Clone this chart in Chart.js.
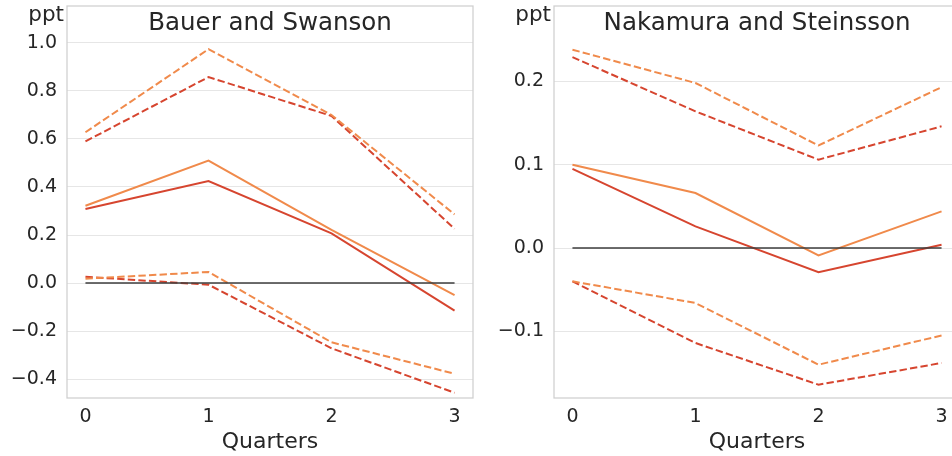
<!DOCTYPE html>
<html>
<head>
<meta charset="utf-8">
<script src="https://cdn.jsdelivr.net/npm/chart.js@4"></script>
<style>
  html, body { margin: 0; padding: 0; background: #ffffff; overflow: hidden; }
  #wrap { position: relative; width: 952px; height: 456px; overflow: hidden; }
  #c1 { position: absolute; left: 0; top: 0; }
  #c2 { position: absolute; left: 478px; top: 0; }
</style>
</head>
<body>
<div id="wrap">
  <canvas id="c1" width="478" height="456"></canvas>
  <canvas id="c2" width="487" height="456"></canvas>
</div>
<script>
// Horizon (quarters) shared by both panels
const quarters = [0, 1, 2, 3];

// Bauer and Swanson: point estimates and bands
const bsOrangeMid   = [0.322, 0.510, 0.221, -0.050];
const bsOrangeUpper = [0.628, 0.974, 0.700, 0.286];
const bsOrangeLower = [0.018, 0.046, -0.247, -0.378];
const bsRedMid      = [0.308, 0.425, 0.207, -0.115];
const bsRedUpper    = [0.590, 0.858, 0.696, 0.226];
const bsRedLower    = [0.026, -0.007, -0.272, -0.457];
const bsYTicks      = [-0.4, -0.2, 0.0, 0.2, 0.4, 0.6, 0.8, 1.0];

// Nakamura and Steinsson: point estimates and bands
const nsOrangeMid   = [0.100, 0.066, -0.009, 0.044];
const nsOrangeUpper = [0.238, 0.198, 0.123, 0.193];
const nsOrangeLower = [-0.040, -0.066, -0.140, -0.105];
const nsRedMid      = [0.095, 0.026, -0.029, 0.004];
const nsRedUpper    = [0.229, 0.164, 0.106, 0.146];
const nsRedLower    = [-0.040, -0.114, -0.164, -0.138];
const nsYTicks      = [-0.1, 0.0, 0.1, 0.2];

const ORANGE = '#f08a4b';
const RED = '#d6452f';
const TEXT = '#262626';
const FONT = "'DejaVu Sans', sans-serif";

const toPoints = vals => vals.map((v, i) => ({ x: quarters[i], y: v }));

function series(vals, color, dashed) {
  return {
    data: toPoints(vals),
    borderColor: color,
    borderWidth: 2,
    borderDash: dashed ? [7.4, 3.2] : [],
    pointRadius: 0,
    tension: 0,
    fill: false
  };
}

// Titles, unit label, axis label and the light frame round the plot area
const panelText = {
  id: 'panelText',
  afterDraw(chart, args, opts) {
    const { ctx, chartArea } = chart;
    const cx = (chartArea.left + chartArea.right) / 2;
    ctx.save();
    ctx.strokeStyle = '#cfcfcf';
    ctx.lineWidth = 1.25;
    ctx.strokeRect(chartArea.left, chartArea.top, chartArea.right - chartArea.left, chartArea.bottom - chartArea.top);
    ctx.fillStyle = TEXT;
    ctx.textBaseline = 'alphabetic';
    ctx.textAlign = 'center';
    ctx.font = '24.5px ' + FONT;
    ctx.fillText(opts.title, cx, 29.6);
    ctx.font = '22px ' + FONT;
    ctx.fillText('Quarters', cx, 448);
    ctx.textAlign = 'right';
    ctx.font = '21.5px ' + FONT;
    ctx.fillText('ppt', chartArea.left - 3, 21);
    ctx.restore();
  }
};

const fmtY = v => v.toFixed(1).replace('-', '\u2212');

function makeChart(id, title, mids, uppers, lowers, yTicks, yMin, yMax, axisWidth, padRight) {
  const zero = {
    data: [{ x: quarters[0], y: 0 }, { x: quarters[quarters.length - 1], y: 0 }],
    borderColor: '#3c3c3c',
    borderWidth: 1.5,
    pointRadius: 0,
    fill: false
  };
  return new Chart(document.getElementById(id), {
    type: 'line',
    data: {
      datasets: [
        zero,
        series(uppers[0], ORANGE, true),
        series(uppers[1], RED, true),
        series(mids[0], ORANGE, false),
        series(mids[1], RED, false),
        series(lowers[0], ORANGE, true),
        series(lowers[1], RED, true)
      ]
    },
    options: {
      responsive: false,
      animation: false,
      layout: { padding: { top: 6, right: padRight, left: 0, bottom: 0 } },
      plugins: {
        legend: { display: false },
        tooltip: { enabled: false },
        panelText: { title }
      },
      scales: {
        x: {
          type: 'linear',
          min: -0.15,
          max: 3.15,
          afterBuildTicks: s => { s.ticks = quarters.map(v => ({ value: v })); },
          afterFit: s => { s.height = 58; s.paddingLeft = 0; s.paddingRight = 0; },
          grid: { display: false, drawTicks: false },
          border: { display: false },
          ticks: {
            font: { family: FONT, size: 19 },
            color: TEXT,
            padding: 8,
            maxRotation: 0,
            autoSkip: false,
            callback: v => String(v)
          }
        },
        y: {
          type: 'linear',
          min: yMin,
          max: yMax,
          afterBuildTicks: s => { s.ticks = yTicks.map(v => ({ value: v })); },
          afterFit: s => { s.width = axisWidth; s.paddingTop = 0; s.paddingBottom = 0; },
          grid: { color: '#e6e6e6', lineWidth: 1, drawTicks: false },
          border: { display: false },
          ticks: {
            font: { family: FONT, size: 19 },
            color: TEXT,
            padding: 10,
            autoSkip: false,
            callback: v => fmtY(v)
          }
        }
      }
    },
    plugins: [panelText]
  });
}

makeChart('c1', 'Bauer and Swanson',
  [bsOrangeMid, bsRedMid], [bsOrangeUpper, bsRedUpper], [bsOrangeLower, bsRedLower],
  bsYTicks, -0.479, 1.154, 67, 5);

makeChart('c2', 'Nakamura and Steinsson',
  [nsOrangeMid, nsRedMid], [nsOrangeUpper, nsRedUpper], [nsOrangeLower, nsRedLower],
  nsYTicks, -0.18, 0.2904, 76, 5);
</script>
</body>
</html>
